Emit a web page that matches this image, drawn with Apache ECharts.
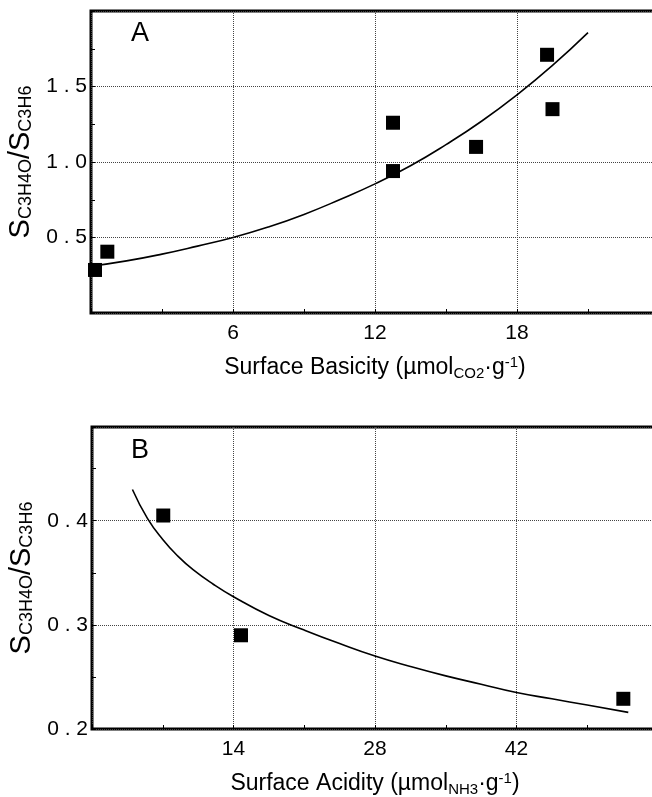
<!DOCTYPE html>
<html lang="en">

<head>
    <meta charset="UTF-8">
    <title>Selectivity vs surface basicity / acidity</title>
    <script src="https://cdn.jsdelivr.net/npm/echarts@6/dist/echarts.min.js"></script>
    <style>
        body {
            margin: 0;
            background: #fff;
        }
    </style>
</head>

<body>
    <div id="chart" style="width: 652px; height: 797px;"></div>

    <script>
        // panel A: basicity
        const basicityX = [0.17, 0.69, 12.76, 12.76, 16.27, 19.27, 19.5];
        const basicityY = [0.285, 0.406, 1.26, 0.94, 1.10, 1.71, 1.35];
        const fitAX = [0, 1.5, 3, 4.5, 6, 7.5, 9, 10.5, 12, 13.5, 15, 16.5, 18, 19.5, 21];
        const fitAY = [0.31, 0.345, 0.39, 0.443, 0.50, 0.57, 0.653, 0.75, 0.855, 0.975, 1.115, 1.27, 1.445, 1.64, 1.857];

        // panel B: acidity
        const acidityX = [7.05, 14.74, 52.57];
        const acidityY = [0.405, 0.29, 0.229];
        const fitBX = [4, 5.5, 7, 8.5, 10, 12, 14, 17.5, 21, 24.5, 28, 31.5, 35, 38.5, 42, 45.5, 49, 53.06];
        const fitBY = [0.43, 0.402, 0.382, 0.366, 0.353, 0.339, 0.327, 0.309, 0.295, 0.282, 0.27, 0.26, 0.251, 0.243, 0.235, 0.229, 0.223, 0.216];

        const ticksA = { x: [6, 12, 18], y: [0.5, 1.0, 1.5] };
        const ticksB = { x: [14, 28, 42], y: [0.2, 0.3, 0.4] };

        const font = 'Liberation Sans, Arial, Helvetica, sans-serif';

        // only the listed ticks get a label; decimals are spread like the original print
        const pick = (list, digits) => v => {
            const hit = list.find(t => Math.abs(t - v) < 1e-6);
            if (hit === undefined) return '';
            return digits ? hit.toFixed(digits).split('').join(' ') : String(hit);
        };

        const yName = '{s|S}{sub|C3H4O}{s|/S}{sub|C3H6}';
        const yRich = {
            s: { fontSize: 29, fontFamily: font, color: '#000' },
            sub: { fontSize: 18, fontFamily: font, color: '#000', padding: [11, 0, 0, 0] }
        };
        const xRich = {
            t: { fontSize: 23, fontFamily: font, color: '#000' },
            sub: { fontSize: 15, fontFamily: font, color: '#000', padding: [11, 0, 0, 0] },
            sup: { fontSize: 15, fontFamily: font, color: '#000', padding: [0, 0, 11, 0] }
        };

        const baseX = (idx, min, max, interval, labels, name) => ({
            type: 'value',
            gridIndex: idx,
            min, max, interval,
            name,
            nameLocation: 'middle',
            nameGap: 42,
            nameTextStyle: { rich: xRich },
            axisLine: { show: false },
            axisTick: { show: true, inside: true, length: 4, lineStyle: { color: '#000' } },
            minorTick: { show: true, splitNumber: 2, length: 4, lineStyle: { color: '#000', width: 1 } },
            axisLabel: { formatter: pick(labels, 0), color: '#000', fontSize: 21, fontFamily: font, margin: 10 },
            splitLine: { show: true, lineStyle: { color: '#444', type: 'dotted', width: 1 } }
        });

        const baseY = (idx, min, max, interval, labels) => ({
            type: 'value',
            gridIndex: idx,
            min, max, interval,
            name: yName,
            nameLocation: 'middle',
            nameGap: 50,
            nameTextStyle: { rich: yRich },
            axisLine: { show: false },
            axisTick: { show: true, inside: true, length: 4, lineStyle: { color: '#000' } },
            minorTick: { show: true, splitNumber: 2, length: 4, lineStyle: { color: '#000', width: 1 } },
            axisLabel: { formatter: pick(labels, 1), color: '#000', fontSize: 21, fontFamily: font, margin: 4 },
            splitLine: { show: true, lineStyle: { color: '#444', type: 'dotted', width: 1 } }
        });

        const chart = echarts.init(document.getElementById('chart'), null, { renderer: 'canvas' });

        const option = {
            animation: false,
            backgroundColor: '#fff',
            title: [
                { text: 'A', left: 126, top: 15, textStyle: { fontSize: 27, fontWeight: 'normal', fontFamily: font, color: '#000' } },
                { text: 'B', left: 126, top: 432, textStyle: { fontSize: 27, fontWeight: 'normal', fontFamily: font, color: '#000' } }
            ],
            grid: [
                { left: 91, top: 11, width: 568, height: 302, show: true, borderColor: '#000', borderWidth: 3, containLabel: false, outerBoundsMode: 'none' },
                { left: 92, top: 427, width: 566, height: 302, show: true, borderColor: '#000', borderWidth: 3, containLabel: false, outerBoundsMode: 'none' }
            ],
            xAxis: [
                baseX(0, 0, 24, 6, ticksA.x, '{t|Surface Basicity (µmol}{sub|CO2}{t|·g}{sup|-1}{t|)}'),
                baseX(1, 0, 56, 14, ticksB.x, '{t|Surface Acidity (µmol}{sub|NH3}{t|·g}{sup|-1}{t|)}')
            ],
            yAxis: [
                baseY(0, 0, 2, 0.5, ticksA.y),
                baseY(1, 0.2, 0.49, 0.1, ticksB.y)
            ],
            series: [
                {
                    type: 'line', xAxisIndex: 0, yAxisIndex: 0,
                    data: fitAX.map((x, i) => [x, fitAY[i]]),
                    smooth: true, showSymbol: false,
                    lineStyle: { color: '#000', width: 1.6 }
                },
                {
                    type: 'scatter', xAxisIndex: 0, yAxisIndex: 0,
                    data: basicityX.map((x, i) => [x, basicityY[i]]),
                    symbol: 'rect', symbolSize: 14,
                    itemStyle: { color: '#000', opacity: 1 }
                },
                {
                    type: 'line', xAxisIndex: 1, yAxisIndex: 1,
                    data: fitBX.map((x, i) => [x, fitBY[i]]),
                    smooth: true, showSymbol: false,
                    lineStyle: { color: '#000', width: 1.6 }
                },
                {
                    type: 'scatter', xAxisIndex: 1, yAxisIndex: 1,
                    data: acidityX.map((x, i) => [x, acidityY[i]]),
                    symbol: 'rect', symbolSize: 14,
                    itemStyle: { color: '#000', opacity: 1 }
                }
            ]
        };

        chart.setOption(option);
    </script>
</body>

</html>
